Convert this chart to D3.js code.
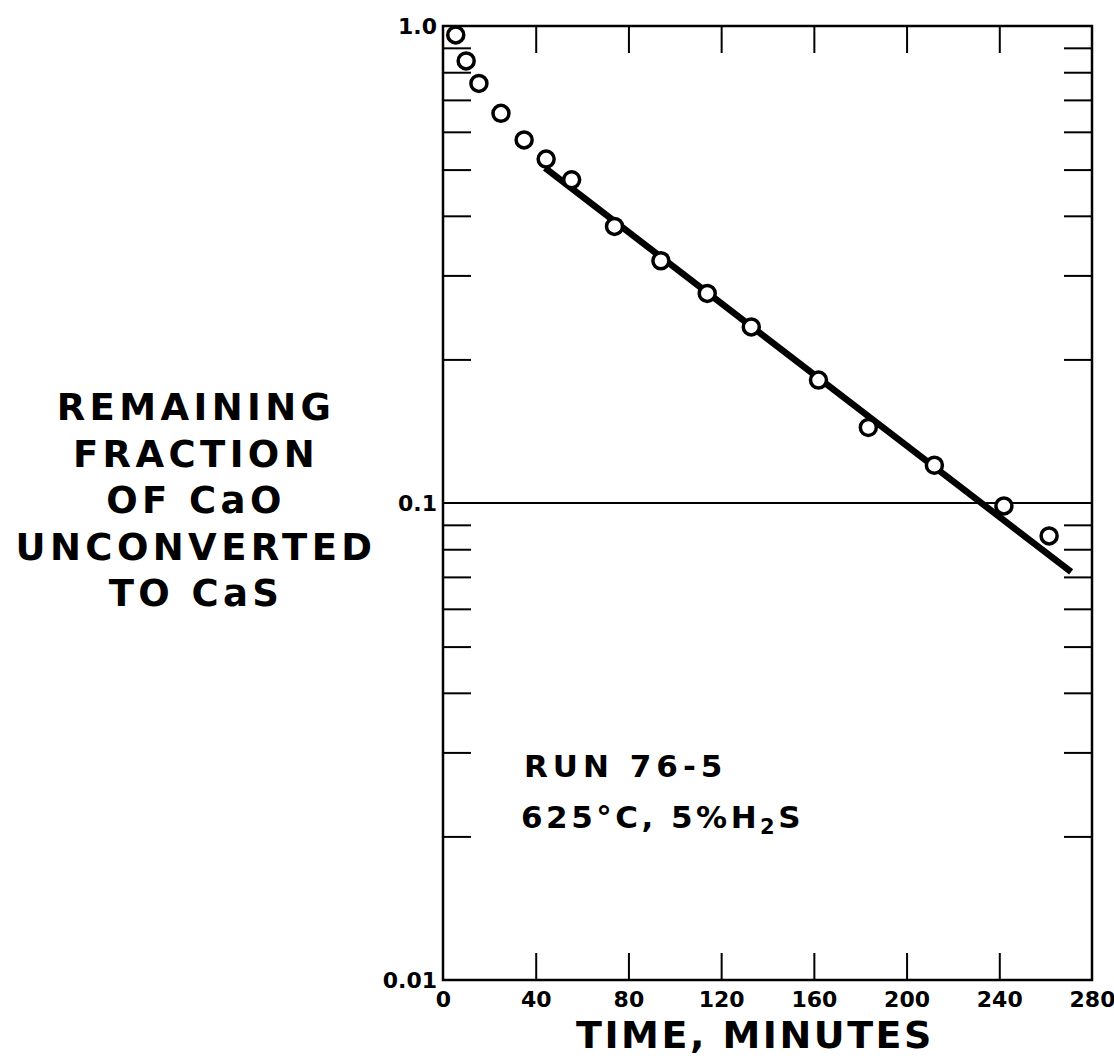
<!DOCTYPE html>
<html>
<head>
<meta charset="utf-8">
<script src="https://cdn.jsdelivr.net/npm/d3@7"></script>
<style>
  body { margin: 0; background: white; }
  svg { display: block; }
  text { fill: black; font-family: "DejaVu Sans", sans-serif; }
</style>
</head>
<body>
<script>
// data (run 76-5)
var times = [5.5, 10, 15.5, 25, 35, 44.5, 55.5, 74, 94, 114, 133, 162, 183.5, 212, 242, 261.5]
var fraction = [0.958, 0.845, 0.758, 0.656, 0.577, 0.526, 0.476, 0.380, 0.322, 0.275, 0.234, 0.181, 0.144, 0.120, 0.0986, 0.0853]

// fitted straight line (end points)
var lineTimes = [44, 271]
var lineFraction = [0.504, 0.0717]

var xTickValues = [0, 40, 80, 120, 160, 200, 240, 280]
var xTickLabels = ["0", "40", "80", "120", "160", "200", "240", "280"]
var yMajor = [0.01, 0.1, 1]
var yMajorLabels = ["0.01", "0.1", "1.0"]
var yMinor = [0.02, 0.03, 0.04, 0.05, 0.06, 0.07, 0.08, 0.09,
              0.2, 0.3, 0.4, 0.5, 0.6, 0.7, 0.8, 0.9]

var yTitle = ["REMAINING", "FRACTION", "OF CaO", "UNCONVERTED", "TO CaS"]
var xTitle = "TIME, MINUTES"

var width = 1114, height = 1063
// plot box ("top" is taken by window.top, so use a margin object)
var box = {left: 443, right: 1092, top: 26, bottom: 980}

var svg = d3.select("body").append("svg")
    .attr("width", width)
    .attr("height", height)

var x = d3.scaleLinear().domain([0, 280]).range([box.left, box.right])
var y = d3.scaleLog().domain([0.01, 1]).range([box.bottom, box.top])

// minor ticks, inside on every side
svg.append("g")
    .attr("transform", "translate(" + box.left + ",0)")
    .call(d3.axisRight(y).tickValues(yMinor).tickSize(28).tickFormat(""))
svg.append("g")
    .attr("transform", "translate(" + box.right + ",0)")
    .call(d3.axisLeft(y).tickValues(yMinor).tickSize(28).tickFormat(""))
svg.append("g")
    .attr("transform", "translate(0," + box.top + ")")
    .call(d3.axisBottom(x).tickValues([40, 80, 120, 160, 200, 240]).tickSize(27).tickFormat(""))
svg.append("g")
    .attr("transform", "translate(0," + box.bottom + ")")
    .call(d3.axisTop(x).tickValues([40, 80, 120, 160, 200, 240]).tickSize(27).tickFormat(""))

// tick labels
svg.append("g")
    .attr("class", "ylab")
    .attr("transform", "translate(" + box.left + ",0)")
    .call(d3.axisLeft(y).tickValues(yMajor).tickSize(0).tickPadding(6)
        .tickFormat(function(d, i) { return yMajorLabels[i] }))
svg.append("g")
    .attr("class", "xlab")
    .attr("transform", "translate(0," + box.bottom + ")")
    .call(d3.axisBottom(x).tickValues(xTickValues).tickSize(0).tickPadding(11)
        .tickFormat(function(d, i) { return xTickLabels[i] }))

svg.selectAll(".domain").remove()
svg.selectAll(".tick line").attr("stroke", "black").attr("stroke-width", 2)
svg.selectAll(".ylab text, .xlab text")
    .style("font-family", "DejaVu Sans")
    .style("font-weight", "bold")
    .style("font-size", "22px")
    .attr("fill", "black")

// frame and the 0.1 line across
svg.append("rect")
    .attr("x", box.left).attr("y", box.top)
    .attr("width", box.right - box.left).attr("height", box.bottom - box.top)
    .attr("fill", "none").attr("stroke", "black").attr("stroke-width", 2.5)
svg.append("line")
    .attr("x1", box.left).attr("x2", box.right)
    .attr("y1", y(0.1)).attr("y2", y(0.1))
    .attr("stroke", "black").attr("stroke-width", 2)

// fitted line
svg.append("line")
    .attr("x1", x(lineTimes[0])).attr("y1", y(lineFraction[0]))
    .attr("x2", x(lineTimes[1])).attr("y2", y(lineFraction[1]))
    .attr("stroke", "black").attr("stroke-width", 6.5)

// data points
svg.selectAll("circle")
    .data(times)
    .enter()
    .append("circle")
    .attr("cx", function(d) { return x(d) })
    .attr("cy", function(d, i) { return y(fraction[i]) })
    .attr("r", 8)
    .attr("fill", "white")
    .attr("stroke", "black")
    .attr("stroke-width", 3.5)

// y title, stacked lines
svg.append("g").selectAll("text")
    .data(yTitle)
    .enter()
    .append("text")
    .attr("x", 196)
    .attr("y", function(d, i) { return 420 + i * 46.5 })
    .attr("text-anchor", "middle")
    .style("font-size", "37px")
    .style("font-weight", "bold")
    .style("letter-spacing", "4.4px")
    .text(function(d) { return d })

// x title
svg.append("text")
    .attr("x", 755)
    .attr("y", 1048)
    .attr("text-anchor", "middle")
    .style("font-size", "38px")
    .style("font-weight", "bold")
    .style("letter-spacing", "2.5px")
    .text(xTitle)

// run annotation
svg.append("text")
    .attr("x", 524).attr("y", 777)
    .style("font-size", "31px")
    .style("font-weight", "bold")
    .style("letter-spacing", "5px")
    .text("RUN 76-5")
var cond = svg.append("text")
    .attr("x", 521).attr("y", 828)
    .style("font-size", "31px")
    .style("font-weight", "bold")
    .style("letter-spacing", "3.5px")
cond.append("tspan").text("625°C, 5%H")
cond.append("tspan").attr("dy", 6).style("font-size", "21px").text("2")
cond.append("tspan").attr("dy", -6).text("S")
</script>
</body>
</html>
